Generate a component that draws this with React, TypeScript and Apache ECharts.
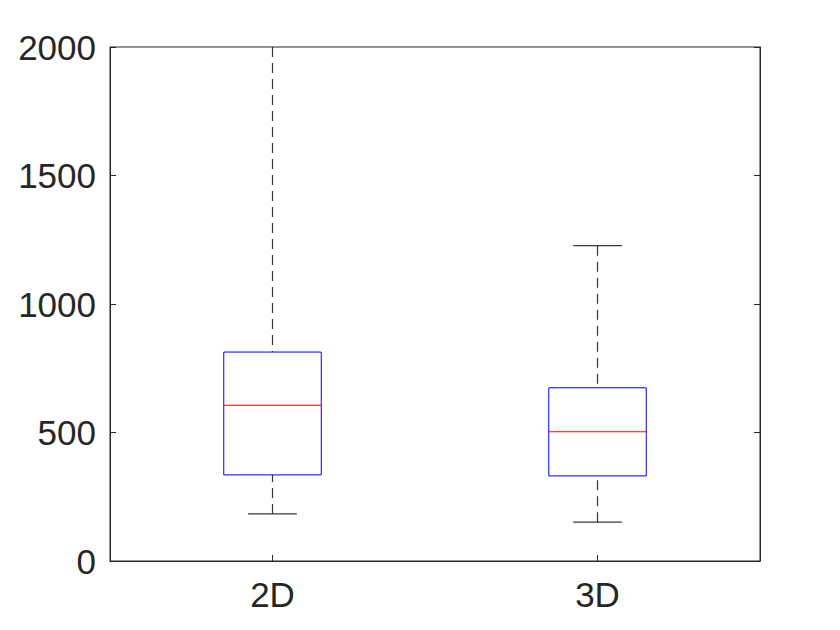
import React, { useEffect, useRef } from "react";
import * as echarts from "echarts";

const categories = ["2D", "3D"];
const lowerWhisker = [183, 151];
const q1Values = [335, 331];
const medianValues = [606, 503];
const q3Values = [813, 674];
const upperWhisker = [2450, 1227];
const yTicks = [0, 500, 1000, 1500, 2000];

const INK = "#262626";
const FONT = "Liberation Sans, Arial, Helvetica, sans-serif";

export default function App() {
  const ref = useRef<HTMLDivElement>(null);
  useEffect(() => {
    if (!ref.current) return;
    const chart = echarts.init(ref.current, null, { renderer: "svg" });
    const data = categories.map((c, i) => [
      i,
      lowerWhisker[i],
      q1Values[i],
      medianValues[i],
      q3Values[i],
      upperWhisker[i],
    ]);
    const renderItem = (params: any, api: any) => {
      const cs = params.coordSys;
      const idx = api.value(0);
      const band = api.size([1, 0])[0];
      const boxW = band * 0.3;
      const capW = boxW / 2;
      const cx = Math.round(api.coord([idx, 0])[0]) - 0.5;
      const y = (v: number) => api.coord([idx, v])[1];
      const clampY = (py: number) => Math.min(Math.max(py, cs.y), cs.y + cs.height);
      const yLo = y(api.value(1));
      const yQ1 = y(api.value(2));
      const yMed = y(api.value(3));
      const yQ3 = y(api.value(4));
      const yHiRaw = y(api.value(5));
      const yHi = clampY(yHiRaw);
      const children: any[] = [];
      const whiskerStyle = { stroke: "#333333", lineWidth: 1.2, lineDash: [10, 6] };
      children.push({
        type: "line",
        shape: { x1: cx, y1: yHi, x2: cx, y2: yQ3 },
        style: whiskerStyle,
      });
      children.push({
        type: "line",
        shape: { x1: cx, y1: yLo, x2: cx, y2: yQ1 },
        style: whiskerStyle,
      });
      if (yHiRaw >= cs.y) {
        children.push({
          type: "line",
          shape: { x1: cx - capW / 2, y1: yHi, x2: cx + capW / 2, y2: yHi },
          style: { stroke: "#3a3a3a", lineWidth: 1.2 },
        });
      }
      children.push({
        type: "line",
        shape: { x1: cx - capW / 2, y1: yLo, x2: cx + capW / 2, y2: yLo },
        style: { stroke: "#3a3a3a", lineWidth: 1.2 },
      });
      children.push({
        type: "rect",
        shape: { x: cx - boxW / 2, y: yQ3, width: boxW, height: yQ1 - yQ3 },
        style: { fill: "none", stroke: "#0000ff", lineWidth: 1 },
      });
      children.push({
        type: "line",
        shape: { x1: cx - boxW / 2, y1: yMed, x2: cx + boxW / 2, y2: yMed },
        style: { stroke: "#ff0000", lineWidth: 1.2 },
      });
      return { type: "group", children };
    };
    const yAxisBase = {
      type: "value" as const,
      min: 0,
      max: 2000,
      interval: 500,
      axisLine: { show: true, lineStyle: { color: INK, width: 1 } },
      axisTick: { show: true, inside: true, length: 6, lineStyle: { color: INK } },
      splitLine: { show: false },
    };
    chart.setOption({
      animation: false,
      backgroundColor: "#ffffff",
      grid: {
        left: 110,
        right: 80,
        top: 47,
        bottom: 69,
        show: true,
        borderColor: INK,
        borderWidth: 1,
        backgroundColor: "transparent",
      },
      xAxis: [
        {
          type: "category",
          data: categories,
          position: "bottom",
          axisLine: { show: true, lineStyle: { color: INK, width: 1 } },
          axisTick: { show: true, inside: true, length: 6, alignWithLabel: true, lineStyle: { color: INK } },
          axisLabel: { color: INK, fontSize: 35, fontFamily: FONT, margin: 16 },
          splitLine: { show: false },
        },
      ],
      yAxis: [
        {
          ...yAxisBase,
          position: "left",
          axisLabel: {
            color: INK,
            fontSize: 35,
            fontFamily: FONT,
            margin: 14,
            formatter: (v: number) => (yTicks.includes(v) ? String(v) : ""),
          },
        },
        {
          ...yAxisBase,
          position: "right",
          axisLabel: { show: false },
        },
      ],
      series: [
        {
          type: "custom",
          renderItem,
          data,
          encode: { x: 0, y: [1, 2, 3, 4, 5] },
          clip: true,
        },
      ],
    });
    return () => chart.dispose();
  }, []);
  return <div ref={ref} style={{ width: 840, height: 630, margin: -8 }} />;
}
